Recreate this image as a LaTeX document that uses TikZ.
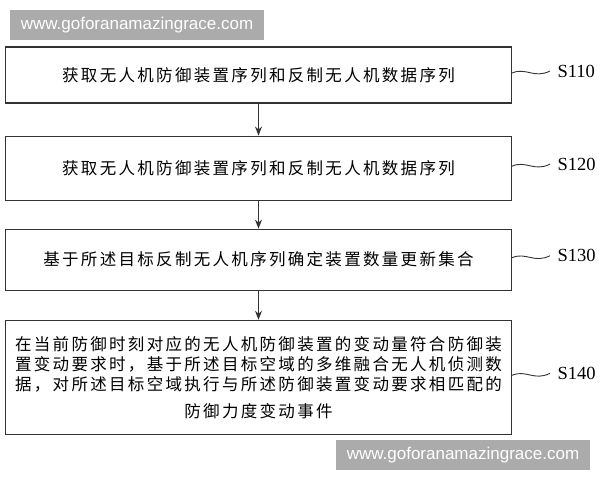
\documentclass[tikz,border=0pt]{standalone}
\usepackage{fontspec}
\setmainfont{Liberation Serif}
\newfontfamily\cjk[LetterSpace=14]{Noto Sans CJK SC}
\newfontfamily\wmfont{Liberation Sans}
\usetikzlibrary{positioning,arrows.meta}
\newcommand{\connectstep}[2]{%
  \draw[->] (#1) -- (#2)}
\newcommand{\labelstep}[3]{%
  \coordinate (#2) at ([shift={(38pt,4pt)}]#1.east);
  \draw[tilde] ([yshift=2pt]#1.east) .. controls +(14pt,6pt) and +(-16pt,-8pt) .. (#2);
  \node[steplabel, right=7pt of #2] (l#1) {#3}}

\begin{document}
\begin{tikzpicture}[x=1pt, y=-1pt, >={Stealth[length=9pt,width=7pt]},
    line width=1.1pt, draw=black!80,
    stepbox/.style={draw=black!80, minimum width=506pt,
    inner sep=0pt, align=center, font=\cjk\fontsize{16.5}{20}\selectfont},
    steplabel/.style={inner sep=0pt, font=\fontsize{18.5}{20}\selectfont},
    tilde/.style={draw=black!80, line width=0.9pt},
    watermark/.style={fill=black!33, text=white, inner sep=0pt,
    minimum width=254pt, minimum height=30pt,
    font=\wmfont\fontsize{17}{17}\selectfont}]
  \useasboundingbox (0,0) rectangle (600,480);
  \node[watermark] (wmtop) at (137,25) {www.goforanamazingrace.com};

  \node[stepbox, minimum height=56pt] (s110) at (258.5,75)
    {获取无人机防御装置序列和反制无人机数据序列};
  \node[stepbox, minimum height=64pt, below=32pt of s110] (s120)
    {获取无人机防御装置序列和反制无人机数据序列};
  \node[stepbox, minimum height=61pt, below=28pt of s120] (s130)
    {基于所述目标反制无人机序列确定装置数量更新集合};
  \node[stepbox, minimum height=114pt, below=29pt of s130] (s140)
    {在当前防御时刻对应的无人机防御装置的变动量符合防御装\\
     置变动要求时，基于所述目标空域的多维融合无人机侦测数\\
     据，对所述目标空域执行与所述防御装置变动要求相匹配的\\[7pt]
     防御力度变动事件};

  \node[watermark] (wmbottom) at (463,455) {www.goforanamazingrace.com};

  \connectstep{s110}{s120};
  \connectstep{s120}{s130};
  \connectstep{s130}{s140};

  \labelstep{s110}{t110}{S110};
  \labelstep{s120}{t120}{S120};
  \labelstep{s130}{t130}{S130};
  \labelstep{s140}{t140}{S140};
\end{tikzpicture}
\end{document}
